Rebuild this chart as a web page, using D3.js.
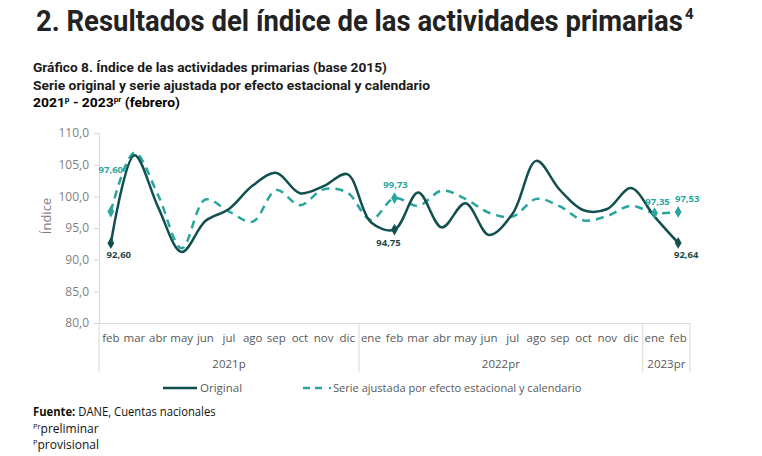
<!DOCTYPE html>
<html><head><meta charset="utf-8">
<script src="https://cdn.jsdelivr.net/npm/d3@7"></script>
<style>body{margin:0;background:#fff}svg{display:block}</style>
</head><body>
<svg id="chart" width="762" height="456"></svg>
<script>
const months = ["feb","mar","abr","may","jun","jul","ago","sep","oct","nov","dic","ene","feb","mar","abr","may","jun","jul","ago","sep","oct","nov","dic","ene","feb"];
const yearGroups = ["2021p","2022pr","2023pr"];
const yearCounts = [11,12,2];
const original = [92.60,106.5,98.3,91.2,96.1,98.0,101.7,103.7,100.5,101.6,103.5,95.9,94.75,100.6,95.1,98.9,93.9,97.3,105.6,101.0,97.8,98.0,101.3,96.8,92.64];
const ajustada = [97.60,106.9,100.2,91.8,99.5,97.6,96.0,101.0,98.6,101.1,100.6,96.3,99.73,98.5,100.9,99.6,97.4,96.8,99.6,98.4,96.2,96.9,98.5,97.35,97.53];
const yTicks = [80,85,90,95,100,105,110];
const origLabels = [{i:0,pos:"below"},{i:12,pos:"below"},{i:24,pos:"below"}];
const ajLabels = [{i:0,pos:"leftabove"},{i:12,pos:"above"},{i:23,pos:"above"},{i:24,pos:"above"}];

const colOrig = "#124f4f", colAdj = "#2aa59d", gray = "#595959";
const svg = d3.select("#chart");
const fmt = v => d3.format(".2f")(v).replace(".", ",");
const fmt1 = v => d3.format(".1f")(v).replace(".", ",");

function fit(sel, x0, w){
  const bb = sel.node().getBBox();
  const s = w / bb.width;
  sel.attr("transform", `translate(${x0},0) scale(${s},1) translate(${-x0},0)`);
}

// Title
const t = svg.append("text").attr("x",36).attr("y",31)
  .attr("font-family","Roboto, 'Liberation Sans', sans-serif").attr("font-weight",700)
  .attr("font-size",30).attr("fill","#222")
  .text("2. Resultados del índice de las actividades primarias");
fit(t,36,647);
svg.append("text").attr("x",685).attr("y",19).attr("font-family","Roboto, sans-serif")
  .attr("font-weight",700).attr("font-size",15).attr("fill","#222").text("4");

// Subtitle
const subF = "Roboto, 'Liberation Sans', sans-serif";
const s1 = svg.append("text").attr("x",33).attr("y",72).attr("font-family",subF).attr("font-weight",700)
  .attr("font-size",13.5).attr("fill","#1a1a1a").text("Gráfico 8. Índice de las actividades primarias (base 2015)");
fit(s1,33,354);
const s2 = svg.append("text").attr("x",33).attr("y",90).attr("font-family",subF).attr("font-weight",700)
  .attr("font-size",13.5).attr("fill","#1a1a1a").text("Serie original y serie ajustada por efecto estacional y calendario");
fit(s2,33,398);
const s3 = svg.append("text").attr("x",33).attr("y",107).attr("font-family",subF).attr("font-weight",700)
  .attr("font-size",13.5).attr("fill","#000");
s3.append("tspan").text("2021");
s3.append("tspan").attr("font-size",8).attr("dy",-5).text("p");
s3.append("tspan").attr("dy",5).text(" - 2023");
s3.append("tspan").attr("font-size",8).attr("dy",-5).text("pr");
s3.append("tspan").attr("dy",5).text(" (febrero)");
fit(s3,33,147);

// Scales
const x = d3.scaleBand().domain(d3.range(months.length)).range([99,690]).padding(0);
const cx = i => x(i) + x.bandwidth()/2;
const y = d3.scaleLinear().domain([80,110]).range([323,133]);

// Y axis
const yAxis = svg.append("g").attr("transform","translate(99,0)")
  .call(d3.axisLeft(y).tickValues(yTicks).tickFormat(fmt1).tickSize(5).tickPadding(5));
yAxis.select(".domain").attr("stroke","#d9d9d9");
yAxis.selectAll(".tick line").attr("stroke","#d9d9d9");
yAxis.selectAll(".tick text").attr("fill","#7f7f7f").attr("font-size",12)
  .attr("font-family","'Open Sans', 'Noto Sans', sans-serif");
svg.append("text").attr("transform","translate(51,216) rotate(-90)").attr("text-anchor","middle")
  .attr("font-family","'Open Sans', sans-serif").attr("font-size",13).attr("fill","#7f7f7f").text("Índice");

// X axis
const xAxis = svg.append("g").attr("transform","translate(0,323)")
  .call(d3.axisBottom(x).tickFormat(i => months[i]).tickSize(0).tickPadding(11));
xAxis.select(".domain").attr("stroke","#d9d9d9");
xAxis.selectAll(".tick text").attr("fill",gray).attr("font-size",11.5)
  .attr("font-family","'Open Sans', 'Noto Sans', sans-serif");

// group separators & year labels
let start = 0;
const bounds = [0];
yearCounts.forEach(c => { start += c; bounds.push(start); });
bounds.forEach(b => {
  const xx = b < months.length ? x(b) : x(months.length-1) + x.bandwidth();
  svg.append("line").attr("x1",xx).attr("x2",xx).attr("y1",323).attr("y2",372).attr("stroke","#d9d9d9");
});
yearGroups.forEach((g,k) => {
  const a = x(bounds[k]);
  const b = bounds[k+1] < months.length ? x(bounds[k+1]) : x(months.length-1)+x.bandwidth();
  svg.append("text").attr("x",(a+b)/2).attr("y",368).attr("text-anchor","middle")
    .attr("font-family","'Open Sans', 'Noto Sans', sans-serif").attr("font-size",11.5).attr("fill",gray).text(g);
});

// Lines
const line = d3.line().x((d,i)=>cx(i)).y(d=>y(d)).curve(d3.curveCatmullRom.alpha(0.5));
svg.append("path").attr("d",line(ajustada)).attr("fill","none").attr("stroke",colAdj)
  .attr("stroke-width",2.5).attr("stroke-dasharray","8,6");
svg.append("path").attr("d",line(original)).attr("fill","none").attr("stroke",colOrig)
  .attr("stroke-width",2.5);

const diamond = d3.symbol().type(d3.symbolDiamond).size(40);
ajLabels.forEach(l => {
  svg.append("path").attr("d",diamond()).attr("transform",`translate(${cx(l.i)},${y(ajustada[l.i])})`).attr("fill",colAdj);
});
origLabels.forEach(l => {
  svg.append("path").attr("d",diamond()).attr("transform",`translate(${cx(l.i)},${y(original[l.i])})`).attr("fill",colOrig);
});

// Data labels
const lblF = "'Open Sans', 'Noto Sans', sans-serif";
ajLabels.forEach(l => {
  const px = cx(l.i), py = y(ajustada[l.i]);
  let tx = px, ty = py - 12, anchor = "middle";
  if (l.pos === "leftabove") { tx = px; ty = py - 39; }
  if (l.i === 12) { tx = px + 1; ty = py - 10; }
  if (l.i === 23) { tx = px + 3; ty = py - 8; }
  if (l.i === 24) { tx = px + 9; ty = py - 10; }
  svg.append("text").attr("x",tx).attr("y",ty).attr("text-anchor",anchor)
    .attr("font-family",lblF).attr("font-weight",700).attr("font-size",9.5).attr("fill",colAdj)
    .text(fmt(ajustada[l.i]));
});
origLabels.forEach(l => {
  const px = cx(l.i), py = y(original[l.i]);
  let tx = px + 8, ty = py + 15;
  if (l.i === 12) { tx = px - 6; ty = py + 16; }
  if (l.i === 24) { tx = px + 8; ty = py + 15; }
  svg.append("text").attr("x",tx).attr("y",ty).attr("text-anchor","middle")
    .attr("font-family",lblF).attr("font-weight",700).attr("font-size",9.5).attr("fill","#1f4a4a")
    .text(fmt(original[l.i]));
});

// Legend
svg.append("line").attr("x1",163).attr("x2",197).attr("y1",388).attr("y2",388)
  .attr("stroke",colOrig).attr("stroke-width",2.5);
svg.append("text").attr("x",200).attr("y",392).attr("font-family",lblF).attr("font-size",11.5)
  .attr("fill",gray).text("Original");
svg.append("line").attr("x1",303).attr("x2",327).attr("y1",388).attr("y2",388)
  .attr("stroke",colAdj).attr("stroke-width",2.5).attr("stroke-dasharray","7,5");
svg.append("circle").attr("cx",330).attr("cy",388).attr("r",1.2).attr("fill",colAdj);
const lt = svg.append("text").attr("x",333).attr("y",392).attr("font-family",lblF).attr("font-size",11.5)
  .attr("fill",gray).text("Serie ajustada por efecto estacional y calendario");
fit(lt,333,249);

// Footer
const fF = "'Open Sans', 'Noto Sans', sans-serif";
const f1 = svg.append("text").attr("x",33).attr("y",416).attr("font-family",fF).attr("font-size",12).attr("fill","#111");
f1.append("tspan").attr("font-weight",700).text("Fuente:");
f1.append("tspan").text(" DANE, Cuentas nacionales");
fit(f1,33,183);
const f2 = svg.append("text").attr("x",33).attr("y",433).attr("font-family",fF).attr("font-size",12).attr("fill","#111");
f2.append("tspan").attr("font-size",7.5).attr("dy",-4).text("Pr");
f2.append("tspan").attr("dy",4).text("preliminar");
const f3 = svg.append("text").attr("x",33).attr("y",449).attr("font-family",fF).attr("font-size",12).attr("fill","#111");
f3.append("tspan").attr("font-size",7.5).attr("dy",-4).text("P");
f3.append("tspan").attr("dy",4).text("provisional");
</script>
</body></html>
